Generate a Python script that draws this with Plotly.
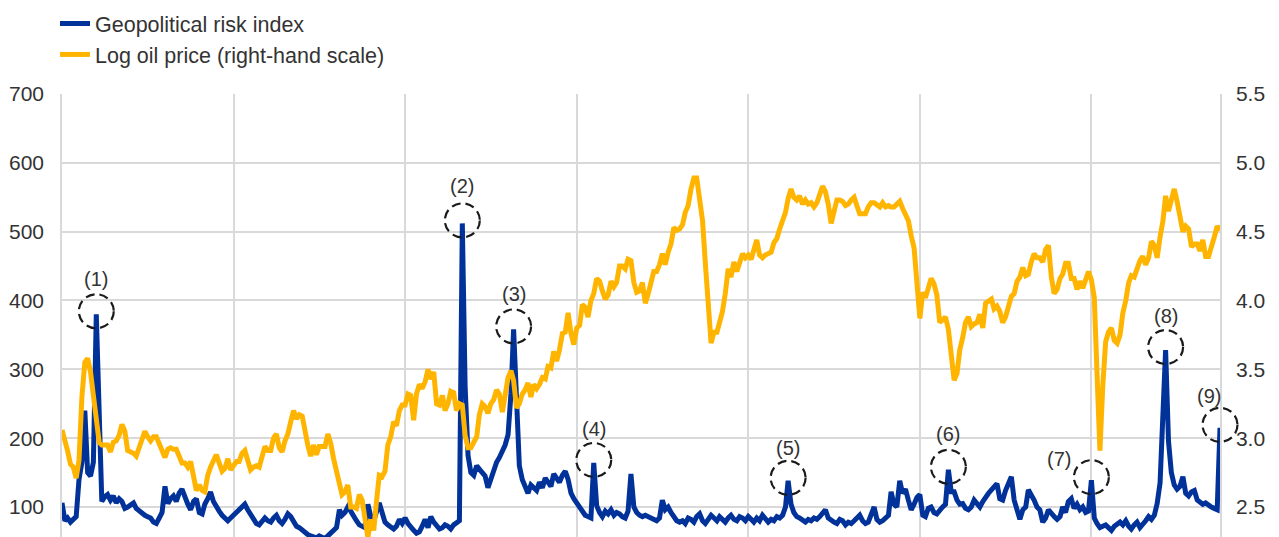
import pandas as pd
import plotly.graph_objects as go

# ---------------- data (monthly, Jan 1990 - Oct 2023) ----------------
gpr_1990 = [106, 80, 84, 78, 82, 86, 140, 165, 240, 150, 145, 165]
gpr_1991 = [380, 198, 108, 115, 118, 110, 116, 106, 112, 108, 98, 100]
gpr_1992 = [104, 106, 98, 94, 90, 88, 86, 84, 78, 76, 84, 92]
gpr_1993 = [130, 105, 112, 116, 108, 120, 126, 112, 104, 96, 108, 112]
gpr_1994 = [92, 90, 104, 112, 122, 108, 100, 94, 88, 84, 80, 84]
gpr_1995 = [88, 92, 96, 100, 104, 96, 90, 82, 76, 74, 78, 84]
gpr_1996 = [80, 78, 84, 88, 80, 76, 82, 90, 86, 78, 72, 70]
gpr_1997 = [66, 62, 60, 58, 56, 55, 58, 56, 54, 58, 62, 66]
gpr_1998 = [70, 96, 88, 92, 100, 94, 86, 80, 74, 72, 70, 104]
gpr_1999 = [86, 80, 96, 106, 92, 78, 74, 70, 68, 72, 82, 76]
gpr_2000 = [84, 76, 70, 66, 62, 64, 72, 82, 70, 86, 78, 72]
gpr_2001 = [68, 70, 74, 72, 68, 74, 76, 80, 512, 275, 175, 150]
gpr_2002 = [146, 160, 155, 150, 145, 128, 140, 158, 165, 172, 180, 190]
gpr_2003 = [205, 265, 358, 230, 160, 140, 128, 120, 132, 128, 124, 136]
gpr_2004 = [128, 142, 136, 130, 148, 140, 136, 146, 152, 140, 120, 112]
gpr_2005 = [106, 98, 92, 88, 86, 84, 164, 102, 92, 86, 94, 90]
gpr_2006 = [96, 88, 92, 90, 86, 84, 94, 148, 100, 92, 88, 86]
gpr_2007 = [88, 86, 84, 82, 80, 84, 110, 96, 100, 92, 86, 80]
gpr_2008 = [78, 80, 76, 84, 82, 78, 86, 90, 80, 76, 82, 88]
gpr_2009 = [84, 80, 86, 82, 78, 84, 88, 82, 80, 86, 84, 80]
gpr_2010 = [86, 82, 78, 84, 80, 88, 84, 78, 82, 80, 86, 84]
gpr_2011 = [88, 100, 138, 104, 92, 86, 84, 80, 78, 82, 80, 84]
gpr_2012 = [82, 86, 92, 96, 84, 80, 78, 76, 82, 80, 74, 78]
gpr_2013 = [76, 80, 84, 88, 80, 76, 78, 92, 100, 82, 78, 80]
gpr_2014 = [84, 88, 122, 104, 100, 138, 120, 126, 110, 96, 104, 114]
gpr_2015 = [118, 88, 86, 98, 100, 92, 90, 96, 100, 104, 154, 122]
gpr_2016 = [122, 110, 104, 105, 98, 96, 100, 110, 104, 100, 108, 115]
gpr_2017 = [120, 125, 130, 134, 112, 110, 124, 134, 144, 110, 96, 82]
gpr_2018 = [96, 100, 125, 118, 110, 100, 96, 78, 84, 96, 90, 86]
gpr_2019 = [82, 86, 100, 92, 108, 112, 98, 104, 96, 100, 92, 94]
gpr_2020 = [139, 84, 76, 70, 72, 74, 70, 66, 72, 76, 78, 74]
gpr_2021 = [80, 72, 68, 74, 78, 70, 74, 80, 86, 82, 88, 105]
gpr_2022 = [135, 220, 328, 195, 150, 132, 126, 130, 144, 120, 116, 122]
gpr_2023 = [124, 110, 108, 104, 106, 102, 100, 98, 96, 215]

oil_1990 = [3.06, 2.99, 2.91, 2.81, 2.79, 2.71, 2.84, 3.30, 3.55, 3.58, 3.48, 3.31]
oil_1991 = [3.16, 2.97, 2.95, 2.95, 2.95, 2.90, 2.97, 2.98, 3.02, 3.10, 3.05, 2.91]
oil_1992 = [2.90, 2.89, 2.87, 2.94, 2.99, 3.05, 3.01, 2.98, 3.01, 3.01, 2.96, 2.91]
oil_1993 = [2.86, 2.92, 2.93, 2.92, 2.92, 2.87, 2.82, 2.82, 2.79, 2.83, 2.72, 2.62]
oil_1994 = [2.66, 2.62, 2.61, 2.73, 2.79, 2.83, 2.88, 2.82, 2.76, 2.78, 2.85, 2.77]
oil_1995 = [2.80, 2.83, 2.83, 2.89, 2.91, 2.85, 2.77, 2.79, 2.80, 2.79, 2.86, 2.94]
oil_1996 = [2.91, 2.91, 3.00, 3.03, 2.93, 2.90, 2.98, 3.03, 3.12, 3.20, 3.14, 3.17]
oil_1997 = [3.16, 3.04, 2.95, 2.87, 2.95, 2.88, 2.94, 2.94, 2.94, 3.03, 2.96, 2.85]
oil_1998 = [2.74, 2.67, 2.59, 2.61, 2.66, 2.50, 2.50, 2.49, 2.59, 2.55, 2.41, 2.28]
oil_1999 = [2.41, 2.33, 2.53, 2.73, 2.72, 2.76, 2.95, 3.01, 3.12, 3.09, 3.20, 3.24]
oil_2000 = [3.24, 3.32, 3.31, 3.13, 3.32, 3.39, 3.36, 3.41, 3.50, 3.43, 3.48, 3.25]
oil_2001 = [3.24, 3.31, 3.20, 3.25, 3.34, 3.33, 3.20, 3.25, 3.24, 3.02, 2.93, 2.93]
oil_2002 = [2.97, 3.01, 3.17, 3.25, 3.23, 3.18, 3.25, 3.28, 3.35, 3.32, 3.19, 3.34]
oil_2003 = [3.44, 3.49, 3.42, 3.22, 3.25, 3.32, 3.35, 3.40, 3.30, 3.39, 3.36, 3.39]
oil_2004 = [3.44, 3.43, 3.52, 3.51, 3.63, 3.56, 3.64, 3.76, 3.77, 3.91, 3.76, 3.68]
oil_2005 = [3.80, 3.82, 3.97, 3.95, 3.88, 4.00, 4.05, 4.16, 4.14, 4.07, 4.01, 4.04]
oil_2006 = [4.14, 4.10, 4.13, 4.25, 4.25, 4.23, 4.30, 4.29, 4.13, 4.06, 4.07, 4.13]
oil_2007 = [3.98, 4.05, 4.13, 4.21, 4.21, 4.26, 4.34, 4.26, 4.35, 4.41, 4.53, 4.51]
oil_2008 = [4.52, 4.55, 4.64, 4.69, 4.81, 4.89, 4.89, 4.73, 4.58, 4.27, 3.96, 3.69]
oil_2009 = [3.77, 3.77, 3.84, 3.92, 4.05, 4.23, 4.17, 4.28, 4.21, 4.29, 4.34, 4.31]
oil_2010 = [4.33, 4.30, 4.37, 4.44, 4.33, 4.31, 4.33, 4.34, 4.35, 4.42, 4.45, 4.52]
oil_2011 = [4.57, 4.64, 4.74, 4.81, 4.75, 4.73, 4.76, 4.70, 4.73, 4.70, 4.71, 4.68]
oil_2012 = [4.71, 4.78, 4.83, 4.79, 4.70, 4.56, 4.63, 4.73, 4.73, 4.72, 4.69, 4.70]
oil_2013 = [4.73, 4.75, 4.69, 4.63, 4.63, 4.63, 4.68, 4.71, 4.71, 4.69, 4.68, 4.71]
oil_2014 = [4.68, 4.69, 4.68, 4.68, 4.70, 4.72, 4.67, 4.62, 4.58, 4.47, 4.38, 4.13]
oil_2015 = [3.87, 4.06, 4.02, 4.09, 4.16, 4.12, 4.04, 3.84, 3.86, 3.88, 3.79, 3.64]
oil_2016 = [3.42, 3.47, 3.64, 3.73, 3.84, 3.88, 3.81, 3.83, 3.84, 3.90, 3.80, 3.98]
oil_2017 = [4.00, 4.01, 3.94, 3.96, 3.92, 3.84, 3.88, 3.95, 4.03, 4.05, 4.14, 4.17]
oil_2018 = [4.24, 4.18, 4.19, 4.28, 4.34, 4.31, 4.31, 4.28, 4.37, 4.40, 4.17, 4.05]
oil_2019 = [4.08, 4.16, 4.19, 4.27, 4.27, 4.16, 4.16, 4.08, 4.14, 4.09, 4.15, 4.21]
oil_2020 = [4.15, 4.02, 3.47, 2.91, 3.38, 3.70, 3.77, 3.80, 3.71, 3.69, 3.75, 3.91]
oil_2021 = [4.00, 4.13, 4.18, 4.17, 4.23, 4.29, 4.32, 4.26, 4.31, 4.43, 4.40, 4.31]
oil_2022 = [4.46, 4.58, 4.76, 4.65, 4.73, 4.81, 4.72, 4.61, 4.50, 4.54, 4.52, 4.39]
oil_2023 = [4.41, 4.41, 4.36, 4.44, 4.32, 4.32, 4.38, 4.46, 4.54, 4.51]

# highlighted episodes (dashed circles) and their labels
event_months = ["1991-01-01", "2001-09-01", "2003-03-01", "2005-07-01", "2011-03-01",
                "2015-11-01", "2020-01-01", "2022-03-01", "2023-10-01"]
event_labels = ["(1)", "(2)", "(3)", "(4)", "(5)", "(6)", "(7)", "(8)", "(9)"]
label_shift_x = [0, 0, 0, 0, 0, 0, -32, 0, -11]
label_shift_y = [32, 34, 32, 31, 30, 33, 18, 31, 29]

left_ticks = [100, 200, 300, 400, 500, 600, 700]
right_ticks = [2.5, 3.0, 3.5, 4.0, 4.5, 5.0, 5.5]

gpr = (gpr_1990 + gpr_1991 + gpr_1992 + gpr_1993 + gpr_1994 + gpr_1995 + gpr_1996 + gpr_1997
       + gpr_1998 + gpr_1999 + gpr_2000 + gpr_2001 + gpr_2002 + gpr_2003 + gpr_2004 + gpr_2005
       + gpr_2006 + gpr_2007 + gpr_2008 + gpr_2009 + gpr_2010 + gpr_2011 + gpr_2012 + gpr_2013
       + gpr_2014 + gpr_2015 + gpr_2016 + gpr_2017 + gpr_2018 + gpr_2019 + gpr_2020 + gpr_2021
       + gpr_2022 + gpr_2023)
oil = (oil_1990 + oil_1991 + oil_1992 + oil_1993 + oil_1994 + oil_1995 + oil_1996 + oil_1997
       + oil_1998 + oil_1999 + oil_2000 + oil_2001 + oil_2002 + oil_2003 + oil_2004 + oil_2005
       + oil_2006 + oil_2007 + oil_2008 + oil_2009 + oil_2010 + oil_2011 + oil_2012 + oil_2013
       + oil_2014 + oil_2015 + oil_2016 + oil_2017 + oil_2018 + oil_2019 + oil_2020 + oil_2021
       + oil_2022 + oil_2023)

dates = pd.date_range("1990-01-01", periods=len(gpr), freq="MS")
gpr_s = pd.Series(gpr, index=dates)

BLUE = "#003299"
YELLOW = "#FFB400"
GRID = "#d9d9d9"
TXT = "#333333"
FONT = "Arial, Liberation Sans, sans-serif"

fig = go.Figure()
fig.add_trace(go.Scatter(x=dates, y=gpr, mode="lines", name="Geopolitical risk index",
                         line=dict(color=BLUE, width=5), legendgroup="a", yaxis="y"))
fig.add_trace(go.Scatter(x=dates, y=oil, mode="lines", name="Log oil price (right-hand scale)",
                         line=dict(color=YELLOW, width=5), legendgroup="b", yaxis="y2"))

t0, t1 = dates[0], dates[-1]
span = (t1 - t0).total_seconds()
for d, lab, sx, sy in zip(event_months, event_labels, label_shift_x, label_shift_y):
    ts = pd.Timestamp(d)
    val = gpr_s[ts]
    frac = (ts - t0).total_seconds() / span
    fig.add_shape(type="circle", xref="paper", yref="y",
                  xsizemode="pixel", ysizemode="pixel",
                  xanchor=frac, yanchor=val,
                  x0=-17.5, x1=17.5, y0=-14, y1=20,
                  line=dict(color="#1a1a1a", width=2.2, dash="9px,5px"), layer="above")
    fig.add_annotation(x=ts, y=val, xref="x", yref="y", text=lab, showarrow=False,
                       xshift=sx, yshift=sy + 3, font=dict(family=FONT, size=20, color=TXT))

# the page body has an 8px margin, so the figure is sized/offset to land on the reference pixels
fig.update_layout(
    width=1271, height=529,
    margin=dict(l=54, r=59, t=86, b=0, autoexpand=False),
    paper_bgcolor="white", plot_bgcolor="white",
    font=dict(family=FONT, size=20, color=TXT),
    showlegend=True,
    legend=dict(xref="container", yref="paper", x=47 / 1271, y=1 + 91 / 443,
                xanchor="left", yanchor="top", orientation="v",
                font=dict(family=FONT, size=21.5, color=TXT),
                bgcolor="rgba(0,0,0,0)", tracegroupgap=0, itemwidth=30),
    xaxis=dict(type="date", range=[t0, t1], showgrid=True, gridcolor=GRID, gridwidth=1.5,
               dtick="M60", tick0="1990-01-01", showticklabels=False, zeroline=False,
               showline=False, ticks=""),
    yaxis=dict(range=[56.4, 700], tickvals=left_ticks, showgrid=True, gridcolor=GRID,
               gridwidth=1.5, zeroline=False, showline=True, linecolor=GRID, linewidth=1.5,
               ticks="", ticklabelstandoff=12, tickfont=dict(family=FONT, size=21, color=TXT)),
    yaxis2=dict(range=[2.282, 5.5], tickvals=right_ticks, tickformat=".1f", overlaying="y",
                side="right", showgrid=False, zeroline=False, showline=True, linecolor=GRID,
                linewidth=1.5, ticks="", ticklabelstandoff=10,
                tickfont=dict(family=FONT, size=21, color=TXT)),
)

fig.write_html("out.html")
